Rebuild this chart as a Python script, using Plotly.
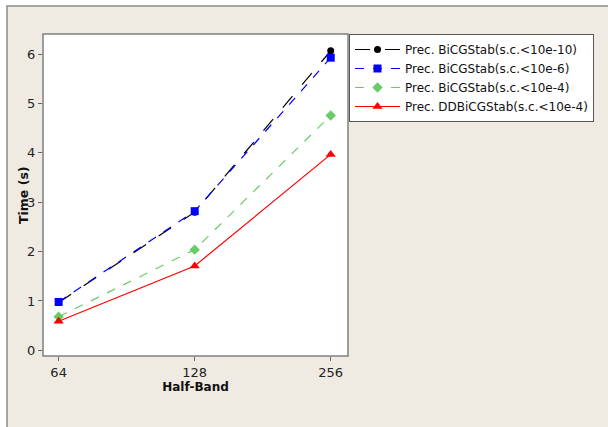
import plotly.graph_objects as go

categories = ["64", "128", "256"]
s_bicg_10 = [0.97, 2.80, 6.07]
s_bicg_6 = [0.98, 2.82, 5.93]
s_bicg_4 = [0.68, 2.04, 4.76]
s_ddbicg_4 = [0.59, 1.71, 3.97]
names = ["Prec. BiCGStab(s.c.<10e-10)", "Prec. BiCGStab(s.c.<10e-6)",
         "Prec. BiCGStab(s.c.<10e-4)", "Prec. DDBiCGStab(s.c.<10e-4)"]
y_ticks = [0, 1, 2, 3, 4, 5, 6]

xs = list(range(len(categories)))
styles = [
    dict(color="#000000", dash="longdash", symbol="circle", size=7),
    dict(color="#0000ff", dash="dash", symbol="square", size=8),
    dict(color="#66cc66", dash="dash", symbol="diamond", size=8),
    dict(color="#ff0000", dash="solid", symbol="triangle-up", size=9),
]
series = [s_bicg_10, s_bicg_6, s_bicg_4, s_ddbicg_4]

fig = go.Figure()
for nm, ys, st in zip(names, series, styles):
    fig.add_trace(go.Scatter(
        x=xs, y=ys, name=nm, mode="lines+markers",
        line=dict(color=st["color"], dash=st["dash"], width=1.2),
        marker=dict(symbol=st["symbol"], size=st["size"], color=st["color"]),
    ))

L, R, T, B = 43, 348, 34, 356
W, H = 608, 427
pw, ph = R - L, B - T
def px(x):
    return (x - L) / pw
def py(y):
    return (B - y) / ph

fig.add_shape(type="rect", xref="paper", yref="paper",
              x0=px(7), x1=px(620), y0=py(440), y1=py(6),
              fillcolor="#f0ebe2", line=dict(color="#8a8a8a", width=1.5),
              layer="below")
fig.add_shape(type="rect", xref="paper", yref="paper",
              x0=0, x1=1, y0=0, y1=1, fillcolor="white",
              line=dict(color="#808080", width=1.5), layer="below")

fig.add_annotation(text="<b>Time (s)</b>", xref="paper", yref="paper",
                   x=px(23), y=0.5, xanchor="center", yanchor="middle",
                   textangle=-90, showarrow=False,
                   font=dict(size=12.5, color="#111111"))

font = "DejaVu Sans, Verdana, sans-serif"
fig.update_layout(
    width=W, height=H,
    margin=dict(l=L, r=W - R, t=T, b=H - B),
    paper_bgcolor="white", plot_bgcolor="rgba(0,0,0,0)",
    font=dict(family=font, size=12, color="#222222"),
    showlegend=True,
    legend=dict(x=px(349), y=1, xanchor="left", yanchor="top",
                bgcolor="white", bordercolor="#555555", borderwidth=1,
                font=dict(size=12, color="#111111"), tracegroupgap=0,
                itemwidth=45),
    xaxis=dict(range=[-0.115, 2.127], tickvals=xs, ticktext=categories,
               showgrid=False, zeroline=False, showline=False,
               ticks="outside", ticklen=4, tickcolor="#666666",
               tickfont=dict(size=13),
               title=dict(text="<b>Half-Band</b>", standoff=4,
                          font=dict(size=12, color="#111111"))),
    yaxis=dict(range=[-0.115, 6.41], tickvals=y_ticks,
               showgrid=False, zeroline=False, showline=False,
               ticks="outside", ticklen=4, tickcolor="#666666",
               tickfont=dict(size=13)),
)

fig.write_html("out.html")
